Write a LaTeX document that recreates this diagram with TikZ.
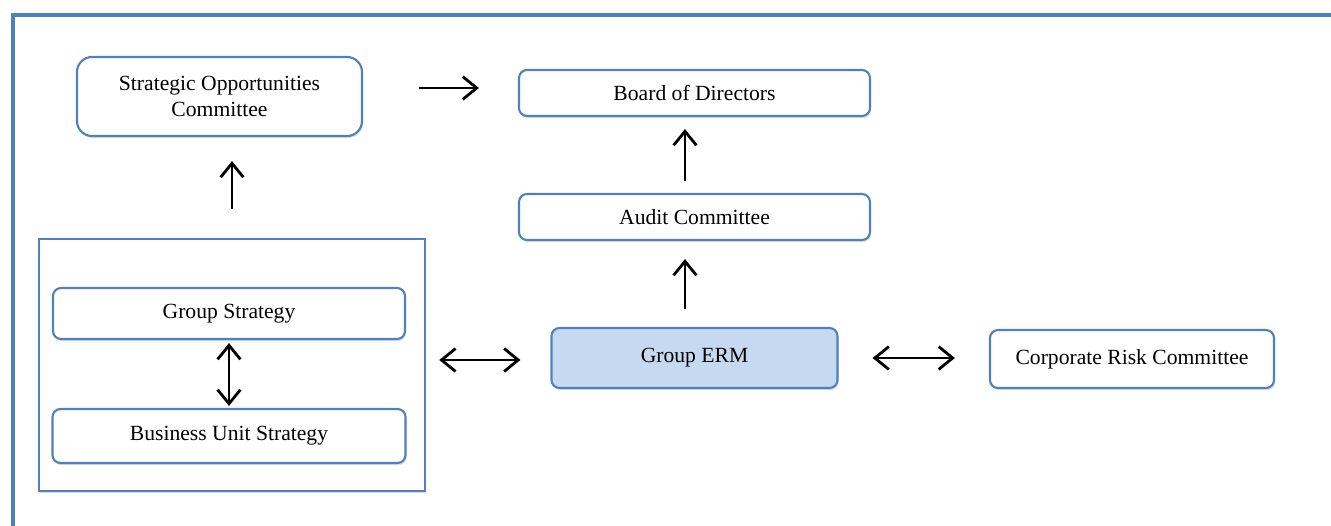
\documentclass[tikz,border=0pt]{standalone}
\usepackage{fontspec}
\setmainfont{Liberation Serif}
\usepackage{tikz}
\usetikzlibrary{arrows,arrows.meta,positioning,shadows}
\definecolor{ermblue}{HTML}{4F81BD}
\definecolor{ermfill}{HTML}{C6D9F1}
\tikzset{every shadow/.style={fill=black!25,opacity=0.5,shadow xshift=0.6pt,shadow yshift=-1.2pt}}
\tikzset{unit/.style={draw=ermblue,line width=1.2pt,rounded corners=0.16cm,fill=white,
  align=center,inner sep=0pt,font=\fontsize{12.3}{14.5}\selectfont,drop shadow}}
\tikzset{link/.style={line width=1.6pt,>={Straight Barb[length=8pt,width=13pt,line width=1.6pt]}}}

\begin{document}
\begin{tikzpicture}
\useasboundingbox (0,0) rectangle (26.62,-10.5);
% frame
\draw[ermblue,line width=2pt] (0.26,-10.6) -- (0.26,-0.30) -- (26.7,-0.30);
%
\node (soc) [unit,rounded corners=0.3cm,minimum width=5.70cm,minimum height=1.58cm] at (4.39,-1.93) {Strategic Opportunities\\Committee};
\node (board) [unit,minimum width=7.02cm,minimum height=0.92cm] at (13.89,-1.86) {Board of Directors};
\node (audit) [unit,minimum width=7.02cm,minimum height=0.92cm] at (13.89,-4.34) {Audit Committee};
\node (erm) [unit,fill=ermfill,minimum width=5.72cm,minimum height=1.20cm] at (13.89,-7.16) {Group ERM};
\node (crc) [unit,minimum width=5.68cm,minimum height=1.16cm] at (22.64,-7.18) {Corporate Risk Committee};
%
\node (grp) [draw=ermblue,line width=1.4pt,fill=white,drop shadow,minimum width=7.72cm,minimum height=5.04cm] at (4.64,-7.30) {};
\node (gs) [unit,minimum width=7.04cm,minimum height=1.02cm] at (4.58,-6.27) {Group Strategy};
\node (bus) [unit,minimum width=7.06cm,minimum height=1.08cm] at (4.58,-8.72) {Business Unit Strategy};
%
\coordinate (socout) at ([shift={(1.12,0.17)}]soc.east);
\coordinate (grpout) at ([yshift=-0.04cm]grp.east |- erm.west);
\coordinate (ermup) at ([xshift=-0.19cm]erm.north);
\coordinate (auditup) at ([xshift=-0.19cm]audit.north);
\path[->,link,shorten >=0.78cm] (socout) edge (socout -| board.west);
\path[->,link,shorten <=0.58cm,shorten >=0.48cm] (grp.north) edge (grp.north |- soc.south);
\path[->,link,shorten <=0.24cm,shorten >=0.24cm] (auditup) edge (auditup |- board.south);
\path[->,link,shorten <=0.36cm,shorten >=0.36cm] (ermup) edge (ermup |- audit.south);
\path[<->,link,shorten <=0.06cm,shorten >=0.04cm] (gs.south) edge (gs.south |- bus.north);
\path[<->,link,shorten <=0.26cm,shorten >=0.6cm] (grpout) edge (grpout -| erm.west);
\path[<->,link,shorten <=0.68cm,shorten >=0.68cm] (erm.east) edge (erm.east -| crc.west);
\end{tikzpicture}
\end{document}
